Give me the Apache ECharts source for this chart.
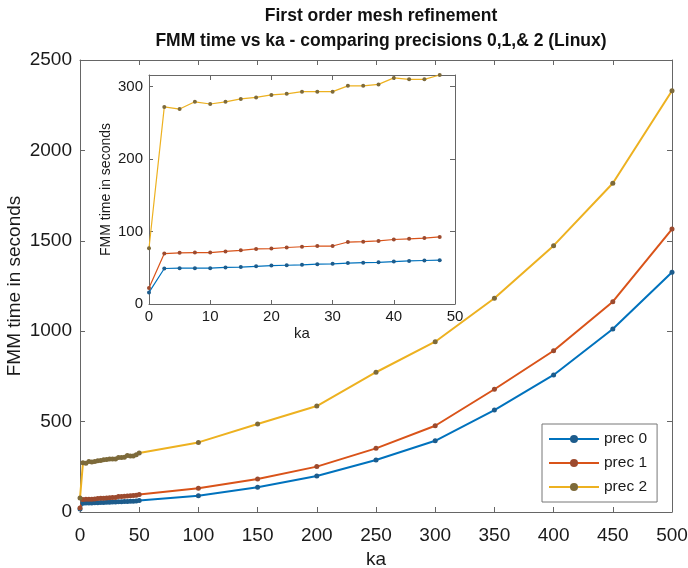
<!DOCTYPE html>
<html><head><meta charset="utf-8">
<script src="https://cdn.jsdelivr.net/npm/echarts@6/dist/echarts.min.js"></script>
<style>html,body{margin:0;padding:0;background:#fff}#c{width:688px;height:568px}</style>
</head><body><div id="c"></div>
<script>
// ka values (dense 0..47.5 step 2.5, then 50..500 step 50)
const ka = [0,2.5,5,7.5,10,12.5,15,17.5,20,22.5,25,27.5,30,32.5,35,37.5,40,42.5,45,47.5,
            50,100,150,200,250,300,350,400,450,500];
const prec0 = [16,49,49.5,49.5,49.5,50.5,51,52,53,53.5,54,55,55.5,56.5,57,57.5,58.5,59.5,60,60.5,
               64,90,137,199,288,394,564,758,1012,1326];
const prec1 = [22,69.6,70.6,71,71,72.5,74,76,76.5,78,79,80,80,85.5,86,87,89,90,91,92.5,
               97,131,183,251,352,477,679,892,1163,1565];
const prec2 = [77,272,269,279,276,279,283,285,288.5,290,293,293,293,301,301,303,312,310,310,316,
               326,385,487,586,773,942,1182,1473,1818,2330];
const seriesNames = ['prec 0','prec 1','prec 2'];
const insetCount = 20; // inset shows ka 0..47.5
const mainXTicks = [0,50,100,150,200,250,300,350,400,450,500];
const mainYTicks = [0,500,1000,1500,2000,2500];
const insetXTicks = [0,10,20,30,40,50];
const insetYTicks = [0,100,200,300];

const colors = ['#0072BD','#D95319','#EDB120'];
const markerColors = ['#1d5c8c','#9c4a2e','#7d6a3a'];
const allData = [prec0, prec1, prec2];

const pairs = (vals, n) => ka.slice(0, n).map((k, i) => [k, vals[i]]);
const axisCol = '#666';
const labelCol = '#1a1a1a';
const font = 'Liberation Sans, Arial, sans-serif';
const plain = v => String(v);

function boxAxis(gridIndex, pos, min, max, interval) {
  return {
    type: 'value', gridIndex, position: pos, min, max, interval,
    axisLine: {show: true, onZero: false, lineStyle: {color: axisCol, width: 1}},
    axisTick: {show: true, inside: true, length: 5, lineStyle: {color: axisCol}},
    axisLabel: {show: false}, splitLine: {show: false}
  };
}

const series = [];
allData.forEach((vals, i) => {
  series.push({
    name: seriesNames[i], type: 'line', xAxisIndex: 0, yAxisIndex: 0,
    data: pairs(vals, ka.length), symbol: 'circle', symbolSize: 5,
    lineStyle: {color: colors[i], width: 2}, itemStyle: {color: markerColors[i]},
    emphasis: {disabled: true}, animation: false, z: 2
  });
});
allData.forEach((vals, i) => {
  series.push({
    name: seriesNames[i], type: 'line', xAxisIndex: 2, yAxisIndex: 2,
    data: pairs(vals, insetCount), symbol: 'circle', symbolSize: 4,
    lineStyle: {color: colors[i], width: 1.2}, itemStyle: {color: markerColors[i]},
    emphasis: {disabled: true}, animation: false, z: 12
  });
});

const chart = echarts.init(document.getElementById('c'), null, {renderer: 'canvas'});
chart.setOption({
  backgroundColor: '#fff',
  animation: false,
  title: {
    text: 'First order mesh refinement\nFMM time vs ka - comparing precisions 0,1,& 2 (Linux)',
    left: 376, top: -1, textAlign: 'center',
    textStyle: {fontFamily: font, fontWeight: 'bold', fontSize: 17.5, lineHeight: 25, color: '#111'}
  },
  legend: {
    data: seriesNames, orient: 'vertical', left: 542, top: 424,
    itemWidth: 50, itemHeight: 10, itemGap: 8,
    backgroundColor: '#fff', borderColor: '#777', borderWidth: 1, borderRadius: 0,
    padding: [7, 10, 7, 6],
    textStyle: {fontFamily: font, fontSize: 15.5, color: labelCol}, z: 20
  },
  grid: [
    {left: 80, top: 60, width: 592, height: 452, show: false, containLabel: false, outerBoundsMode: 'none'},
    {left: 149, top: 75, width: 306, height: 229, show: true, backgroundColor: '#fff', borderWidth: 0, z: 10,
     containLabel: false, outerBoundsMode: 'none'}
  ],
  xAxis: [
    {type: 'value', gridIndex: 0, position: 'bottom', min: 0, max: 500, interval: 50,
     name: 'ka', nameLocation: 'middle', nameGap: 32,
     nameTextStyle: {fontFamily: font, fontSize: 19, color: labelCol},
     axisLine: {show: true, onZero: false, lineStyle: {color: axisCol}},
     axisTick: {show: true, inside: true, length: 5, lineStyle: {color: axisCol}},
     axisLabel: {fontFamily: font, fontSize: 19, color: labelCol, margin: 14, formatter: plain},
     splitLine: {show: false}},
    boxAxis(0, 'top', 0, 500, 50),
    {type: 'value', gridIndex: 1, position: 'bottom', min: 0, max: 50, interval: 10, z: 12,
     name: 'ka', nameLocation: 'middle', nameGap: 22,
     nameTextStyle: {fontFamily: font, fontSize: 15, color: labelCol},
     axisLine: {show: true, onZero: false, lineStyle: {color: axisCol}},
     axisTick: {show: true, inside: true, length: 4, lineStyle: {color: axisCol}},
     axisLabel: {fontFamily: font, fontSize: 15, color: labelCol, margin: 5, formatter: plain},
     splitLine: {show: false}},
    Object.assign(boxAxis(1, 'top', 0, 50, 10), {z: 12})
  ],
  yAxis: [
    {type: 'value', gridIndex: 0, position: 'left', min: 0, max: 2500, interval: 500,
     name: 'FMM time in seconds', nameLocation: 'middle', nameGap: 56, nameMoveOverlap: false,
     nameTextStyle: {fontFamily: font, fontSize: 19, color: labelCol},
     axisLine: {show: true, onZero: false, lineStyle: {color: axisCol}},
     axisTick: {show: true, inside: true, length: 5, lineStyle: {color: axisCol}},
     axisLabel: {fontFamily: font, fontSize: 19, color: labelCol, margin: 8, formatter: plain},
     splitLine: {show: false}},
    boxAxis(0, 'right', 0, 2500, 500),
    {type: 'value', gridIndex: 1, position: 'left', min: 0, max: 316, interval: 100, z: 12,
     name: 'FMM time in seconds', nameLocation: 'middle', nameGap: 36,
     nameTextStyle: {fontFamily: font, fontSize: 14, color: labelCol},
     axisLine: {show: true, onZero: false, lineStyle: {color: axisCol}},
     axisTick: {show: true, inside: true, length: 4, lineStyle: {color: axisCol}},
     axisLabel: {fontFamily: font, fontSize: 15, color: labelCol, margin: 6,
       formatter: v => (insetYTicks.indexOf(v) >= 0 ? String(v) : '')},
     splitLine: {show: false}},
    Object.assign(boxAxis(1, 'right', 0, 316, 100), {z: 12})
  ],
  series
});
</script>
</body></html>
